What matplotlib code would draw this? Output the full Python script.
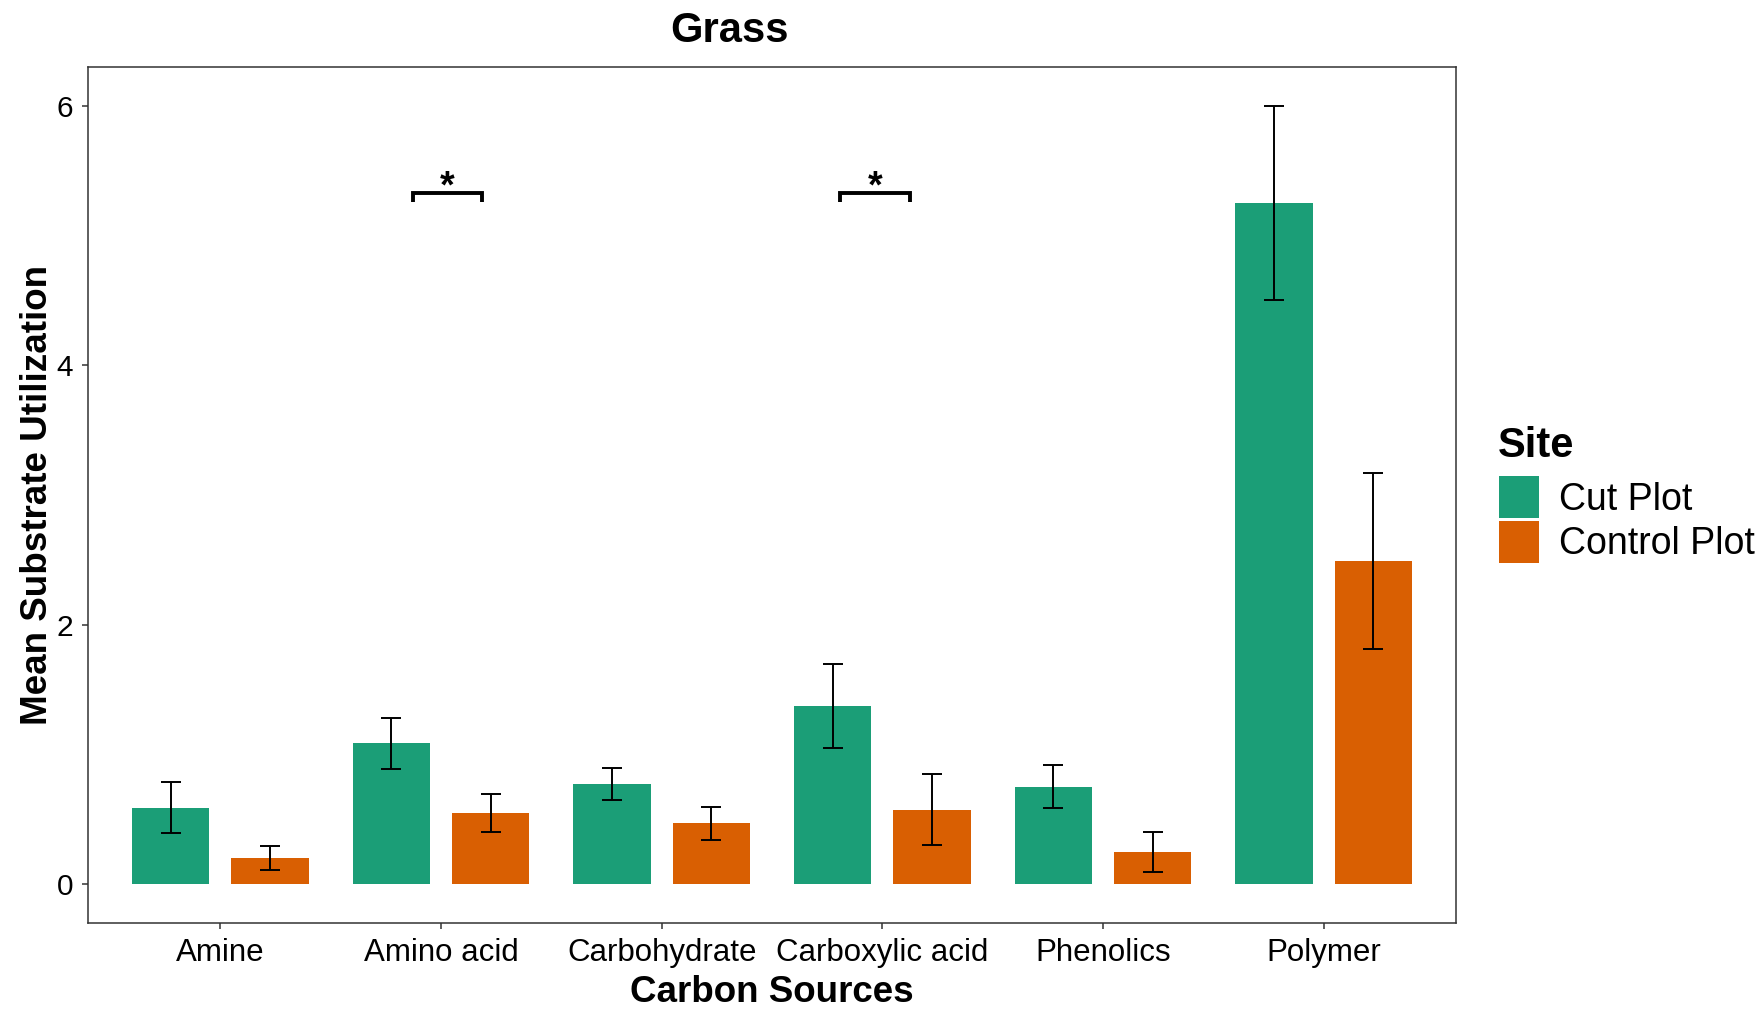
import numpy as np
import matplotlib
matplotlib.use("Agg")
import matplotlib.pyplot as plt
from matplotlib.patches import Patch

plt.rcParams["font.family"] = ["Liberation Sans", "DejaVu Sans"]

# Mean substrate utilization per carbon source, with standard errors
categories = ["Amine", "Amino acid", "Carbohydrate", "Carboxylic acid", "Phenolics", "Polymer"]
series_names = ["Cut Plot", "Control Plot"]
cut_mean = [0.59, 1.085, 0.77, 1.375, 0.75, 5.25]
cut_se = [0.195, 0.195, 0.122, 0.322, 0.165, 0.75]
control_mean = [0.20, 0.55, 0.47, 0.575, 0.245, 2.49]
control_se = [0.092, 0.146, 0.127, 0.273, 0.153, 0.68]
y_ticks = [0, 2, 4, 6]

# Significance brackets (x span in category units, height in data units)
sig_xmin = [1.872, 3.807]
sig_xmax = [2.185, 4.124]
sig_y = [5.33, 5.33]
sig_labels = ["*", "*"]

CUT_COLOR = "#1B9E77"
CONTROL_COLOR = "#D95F02"
FRAME = "#333333"

W, H = 1763, 1009
fig = plt.figure(figsize=(W / 100, H / 100), dpi=100)
L, R, T, B = 88, 1456, 67, 923
ax = fig.add_axes([L / W, 1 - B / H, (R - L) / W, (B - T) / H])

x = np.arange(1, len(categories) + 1)
dodge = 0.225
bar_w = 0.35

ax.bar(x - dodge, cut_mean, width=bar_w, color=CUT_COLOR, zorder=2)
ax.bar(x + dodge, control_mean, width=bar_w, color=CONTROL_COLOR, zorder=2)
err_kw = dict(fmt="none", ecolor="black", elinewidth=1.4, capsize=7.5, capthick=1.4, zorder=3)
ax.errorbar(x - dodge, cut_mean, yerr=cut_se, **err_kw)
ax.errorbar(x + dodge, control_mean, yerr=control_se, **err_kw)

# brackets with asterisks
tip = 0.07
for x0, x1, yb, lab in zip(sig_xmin, sig_xmax, sig_y, sig_labels):
    ax.plot([x0, x0, x1, x1], [yb - tip, yb, yb, yb - tip], color="black",
            lw=2.8, solid_joinstyle="miter", solid_capstyle="butt", zorder=4)
    ax.text((x0 + x1) / 2, yb - tip + 0.035, lab, ha="center", va="baseline",
            fontsize=27, fontweight="bold", zorder=4)

ax.set_xlim(0.4, 6.6)
ax.set_ylim(-0.3, 6.3)
ax.set_xticks(x)
ax.set_xticklabels(categories)
ax.set_yticks(y_ticks)
ax.set_yticklabels([str(v) for v in y_ticks])

for sp in ax.spines.values():
    sp.set_color(FRAME)
    sp.set_linewidth(1.1)
ax.tick_params(axis="both", length=4.3, width=1.1, color=FRAME, labelcolor="black")
ax.tick_params(axis="x", pad=6.8, labelsize=22.5)
ax.tick_params(axis="y", pad=6.3, labelsize=21.5)

ax.set_xlabel("Carbon Sources", fontsize=26.5, fontweight="bold")
ax.xaxis.set_label_coords(0.5, -0.0608)
ax.set_ylabel("Mean Substrate Utilization", fontsize=26.5, fontweight="bold")
ax.yaxis.set_label_coords(-0.0243, 0.5)

ax.set_title("Grass", fontsize=30, fontweight="bold", x=0.469, y=1.0296,
             va="baseline", pad=0)

# legend: title placed above the key column
fig.text(1498 / W, 1 - 457 / H, "Site", fontsize=30, fontweight="bold",
         ha="left", va="baseline")
handles = [Patch(facecolor=CUT_COLOR), Patch(facecolor=CONTROL_COLOR)]
fig.legend(handles, series_names, loc="upper left",
           bbox_to_anchor=(1499 / W, 1 - 476 / H), frameon=False, fontsize=27,
           handlelength=1.06, handleheight=1.35, handletextpad=0.53,
           labelspacing=0.07, borderpad=0, borderaxespad=0)

fig.savefig("out.png", dpi=100)
